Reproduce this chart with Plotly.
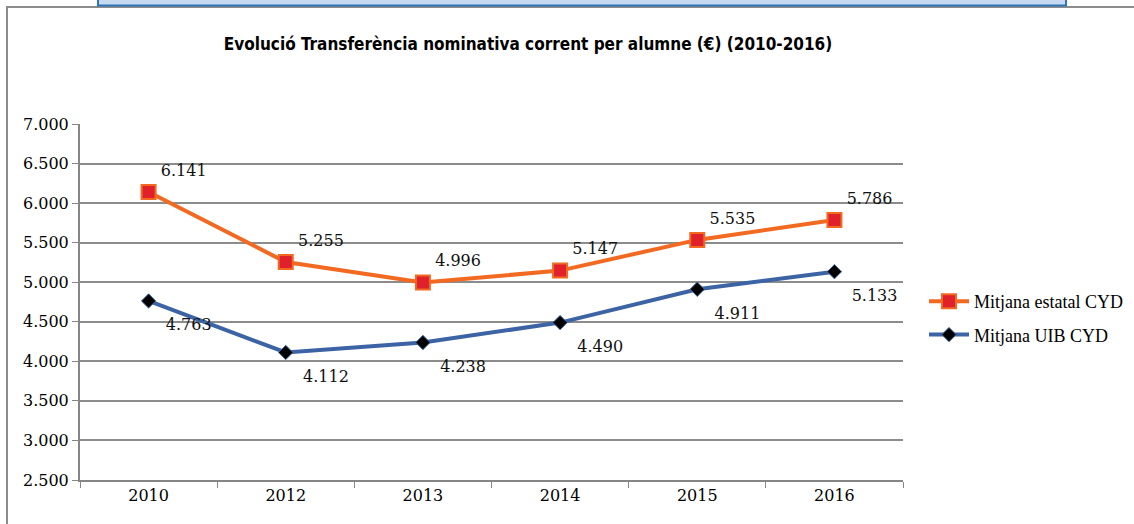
import plotly.graph_objects as go

years = ["2010", "2012", "2013", "2014", "2015", "2016"]
estatal = [6141, 5255, 4996, 5147, 5535, 5786]
uib = [4763, 4112, 4238, 4490, 4911, 5133]
y_ticks = [2500, 3000, 3500, 4000, 4500, 5000, 5500, 6000, 6500, 7000]

W, H = 1134, 524
L, R, T, B = 80, 903, 124, 480

def px(x):
    return (x - L) / (R - L)

def py(y):
    return (B - y) / (B - T)

serif = "DejaVu Serif, Liberation Serif, serif"
legend_serif = "Liberation Serif, DejaVu Serif, serif"

fig = go.Figure()
fig.add_trace(go.Scatter(
    x=years, y=estatal, name="Mitjana estatal CYD", legendgroup="a",
    mode="lines+markers",
    line=dict(color="#F26A21", width=4),
    marker=dict(symbol="square", size=14, color="#E0202A", line=dict(color="#F26A21", width=2)),
    hoverinfo="skip",
))
fig.add_trace(go.Scatter(
    x=years, y=uib, name="Mitjana UIB CYD", legendgroup="b",
    mode="lines+markers",
    line=dict(color="#3C64A4", width=4),
    marker=dict(symbol="diamond", size=11, color="#000000", line=dict(color="#3C64A4", width=1)),
    hoverinfo="skip",
))
# data labels
fig.add_trace(go.Scatter(
    x=years, y=estatal, mode="markers+text", showlegend=False, hoverinfo="skip",
    marker=dict(size=18, color="rgba(0,0,0,0)"),
    texttemplate="%{y:,d}", textposition="top right",
    textfont=dict(family=serif, size=16, color="#111111"),
))
fig.add_trace(go.Scatter(
    x=years, y=uib, mode="markers+text", showlegend=False, hoverinfo="skip",
    marker=dict(size=26, color="rgba(0,0,0,0)"),
    texttemplate="%{y:,d}", textposition="bottom right",
    textfont=dict(family=serif, size=16, color="#111111"),
))

shapes = [
    # outer frame
    dict(type="rect", xref="paper", yref="paper",
         x0=px(7), x1=px(1200), y0=py(600), y1=py(7),
         line=dict(color="#8C8C8C", width=2), fillcolor="rgba(0,0,0,0)", layer="below"),
    # blue header box (cut off)
    dict(type="rect", xref="paper", yref="paper",
         x0=px(98), x1=px(1066), y0=py(5.5), y1=py(-10),
         line=dict(color="#2E75B6", width=2), fillcolor="#C6D9F1", layer="above"),
]

fig.update_layout(
    width=W, height=H,
    margin=dict(l=L, r=W - R, t=T, b=H - B, autoexpand=False),
    paper_bgcolor="white", plot_bgcolor="white",
    separators=",.",
    title=dict(text="<b>Evolució Transferència nominativa corrent per alumne (€) (2010-2016)</b>",
               x=528 / W, xanchor="center", xref="container",
               y=1 - 44 / H, yanchor="middle", yref="container",
               font=dict(family="Liberation Sans Narrow, DejaVu Sans Condensed, Arial Narrow, sans-serif",
                         size=17, color="#000000")),
    xaxis=dict(type="category", tickson="boundaries", ticks="outside", ticklen=6,
               tickcolor="#868686", showline=True, linecolor="#868686", linewidth=2,
               showgrid=False, tickfont=dict(family=serif, size=16, color="#000000"),
               range=[-0.5, 5.5]),
    yaxis=dict(range=[2500, 7000], tickvals=y_ticks, tickformat=",d", ticks="outside", ticklen=6,
               tickcolor="#868686", showline=True, linecolor="#868686", linewidth=2,
               showgrid=True, gridcolor="#8C8C8C", gridwidth=1.5, zeroline=False,
               tickfont=dict(family=serif, size=16, color="#000000")),
    legend=dict(x=px(924), y=py(283), xanchor="left", yanchor="top",
                font=dict(family=legend_serif, size=18, color="#000000"),
                itemwidth=40, tracegroupgap=7, bgcolor="rgba(0,0,0,0)"),
    shapes=shapes,
    showlegend=True,
)

fig.write_html("out.html", config={"displayModeBar": False},
               post_script="document.body.style.margin='0';")
